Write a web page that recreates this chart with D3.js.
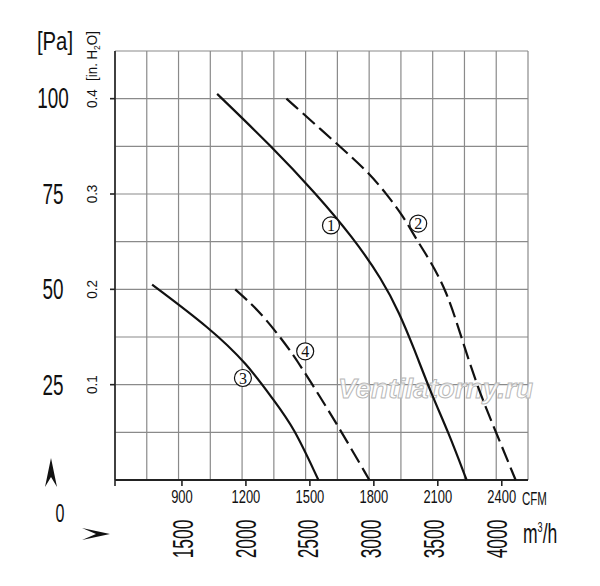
<!doctype html>
<html lang="en">
<head>
  <meta charset="utf-8">
  <title>Fan curves</title>
  <style>
    body { margin: 0; background: #fff; }
    svg { display: block; }
  </style>
</head>
<body>
<svg id="chart"></svg>
<script src="https://d3js.org/d3.v7.min.js"></script>
<script>
var width = 600;
var height = 586;

// axis values
var cfmTicks = [900, 1200, 1500, 1800, 2100, 2400];
var m3hTicks = [1500, 2000, 2500, 3000, 3500, 4000];
var inTicks = [0.1, 0.2, 0.3, 0.4];
var paTicks = [25, 50, 75, 100];

// curves, [CFM, in. H2O]
var curve1 = [[1065,0.405],[1320,0.35],[1530,0.30],[1700,0.255],[1840,0.21],[1920,0.175],[1985,0.14],[2070,0.09],[2150,0.05],[2235,0]];
var curve2 = [[1390,0.40],[1625,0.353],[1765,0.325],[1860,0.30],[1940,0.276],[2000,0.252],[2065,0.23],[2140,0.198],[2195,0.161],[2250,0.122],[2310,0.084],[2375,0.049],[2465,0]];
var curve3 = [[760,0.205],[1033,0.159],[1205,0.122],[1329,0.084],[1423,0.056],[1540,0]];
var curve4 = [[1150,0.200],[1259,0.178],[1361,0.150],[1439,0.126],[1548,0.087],[1634,0.056],[1779,0]];
var curveDashed = [false, true, false, true];
var curveNames = ["1", "2", "3", "4"];
// where the circled numbers sit, [CFM, in. H2O]
var namePos = [[1599,0.267],[2008,0.269],[1186,0.107],[1478,0.135]];

var svg = d3.select("#chart")
  .attr("width", width)
  .attr("height", height)
  .style("font-family", "'Liberation Sans', Arial, sans-serif");

svg.append("rect").attr("width", width).attr("height", height).attr("fill", "#fff");

var x = d3.scaleLinear().domain([586, 2523]).range([115, 528]);
var y = d3.scaleLinear().domain([0, 0.45]).range([480, 51]);

// label helper: condensed text via horizontal scale
function label(txt, px, py, size, sx, anchor, rot) {
  var t = svg.append("text")
    .attr("transform", "translate(" + px + "," + py + ")" + (rot ? " rotate(" + rot + ")" : "") + " scale(" + sx + ",1)")
    .attr("font-size", size)
    .attr("text-anchor", anchor || "middle")
    .attr("fill", "#111")
    .text(txt);
  return t;
}

// grid
var gx = d3.range(14).map(function(i) { return 586 + i * (2523 - 586) / 13; });
var gy = d3.range(0, 0.4501, 0.05);
svg.append("g").selectAll("line").data(gx).enter().append("line")
  .attr("x1", function(d) { return x(d); }).attr("x2", function(d) { return x(d); })
  .attr("y1", y(0)).attr("y2", y(0.45))
  .attr("stroke", "#8a8a8a").attr("stroke-width", 1.2);
svg.append("g").selectAll("line").data(gy).enter().append("line")
  .attr("x1", x(586)).attr("x2", x(2523))
  .attr("y1", function(d) { return y(d); }).attr("y2", function(d) { return y(d); })
  .attr("stroke", "#8a8a8a").attr("stroke-width", 1.2);

// axes
svg.append("line").attr("x1", x(586)).attr("x2", x(586)).attr("y1", y(0.45)).attr("y2", y(0) + 6)
  .attr("stroke", "#222").attr("stroke-width", 1.6);
svg.append("line").attr("x1", x(586)).attr("x2", x(2523)).attr("y1", y(0)).attr("y2", y(0))
  .attr("stroke", "#222").attr("stroke-width", 1.8);

svg.append("g").selectAll("line").data(inTicks).enter().append("line")
  .attr("x1", x(586) - 5).attr("x2", x(586))
  .attr("y1", function(d) { return y(d); }).attr("y2", function(d) { return y(d); })
  .attr("stroke", "#222").attr("stroke-width", 1.6);
svg.append("g").selectAll("line").data(cfmTicks).enter().append("line")
  .attr("x1", function(d) { return x(d); }).attr("x2", function(d) { return x(d); })
  .attr("y1", y(0)).attr("y2", y(0) + 6)
  .attr("stroke", "#222").attr("stroke-width", 1.6);

// watermark
svg.append("text")
  .attr("x", 338).attr("y", 398)
  .attr("font-size", 28).attr("font-weight", "bold").attr("font-style", "italic")
  .attr("textLength", 195).attr("lengthAdjust", "spacingAndGlyphs")
  .attr("fill", "#fff").attr("fill-opacity", 0.75)
  .attr("stroke", "#b8b8b8").attr("stroke-width", 1)
  .text("Ventilatorny.ru");

// curves
var line = d3.line()
  .x(function(d) { return x(d[0]); })
  .y(function(d) { return y(d[1]); })
  .curve(d3.curveBasis);

[curve1, curve2, curve3, curve4].forEach(function(c, i) {
  svg.append("path").datum(c).attr("d", line)
    .attr("fill", "none")
    .attr("stroke", "#111")
    .attr("stroke-width", 2.2)
    .attr("stroke-dasharray", curveDashed[i] ? "16,6" : null);
});

// circled numbers
namePos.forEach(function(p, i) {
  var g = svg.append("g").attr("transform", "translate(" + x(p[0]) + "," + y(p[1]) + ")");
  g.append("circle").attr("r", 8.5).attr("fill", "#fff").attr("stroke", "#111").attr("stroke-width", 1.2);
  g.append("text").attr("text-anchor", "middle").attr("dy", "0.36em")
    .attr("font-family", "'Liberation Serif', serif").attr("font-size", 16).attr("fill", "#111")
    .text(curveNames[i]);
});

// y labels, in. H2O
inTicks.forEach(function(v) {
  label(String(v), 97, y(v), 15, 0.9, "middle", -90);
});
var unitIn = label("[in. H", 97, 56, 14, 0.95, "middle", -90);
unitIn.text("[in. H");
unitIn.append("tspan").attr("font-size", 9).attr("dy", 3).text("2");
unitIn.append("tspan").attr("dy", -3).text("O]");

// y labels, Pa
paTicks.forEach(function(p) {
  label(String(p), 53, y(p * 0.004015) + 10.7, 30, 0.63, "middle");
});
label("[Pa]", 55, 50, 26, 0.78, "middle");
label("0", 60, 522, 26, 0.62, "middle");

// x labels, CFM
cfmTicks.forEach(function(c) {
  label(String(c), x(c), 503, 18, 0.72, "middle");
});
label("CFM", 522, 505, 18, 0.64, "start");

// x labels, m3/h
m3hTicks.forEach(function(m) {
  label(String(m), x(m / 1.699) + 3.5 + 11, 539, 30, 0.58, "middle", -90);
});
var unitM = label("m", 523, 543, 27, 0.65, "start");
unitM.append("tspan").attr("font-size", 14).attr("dy", -11).text("3");
unitM.append("tspan").attr("dy", 11).text("/h");

// arrow marks
svg.append("path").attr("d", "M0,0 L6,29 L0,19 L-6,29 Z")
  .attr("transform", "translate(51,458)").attr("fill", "#111");
svg.append("path").attr("d", "M0,0 L-28,-6 L-14,0 L-28,6 Z")
  .attr("transform", "translate(110,534)").attr("fill", "#111");
</script>
</body>
</html>
